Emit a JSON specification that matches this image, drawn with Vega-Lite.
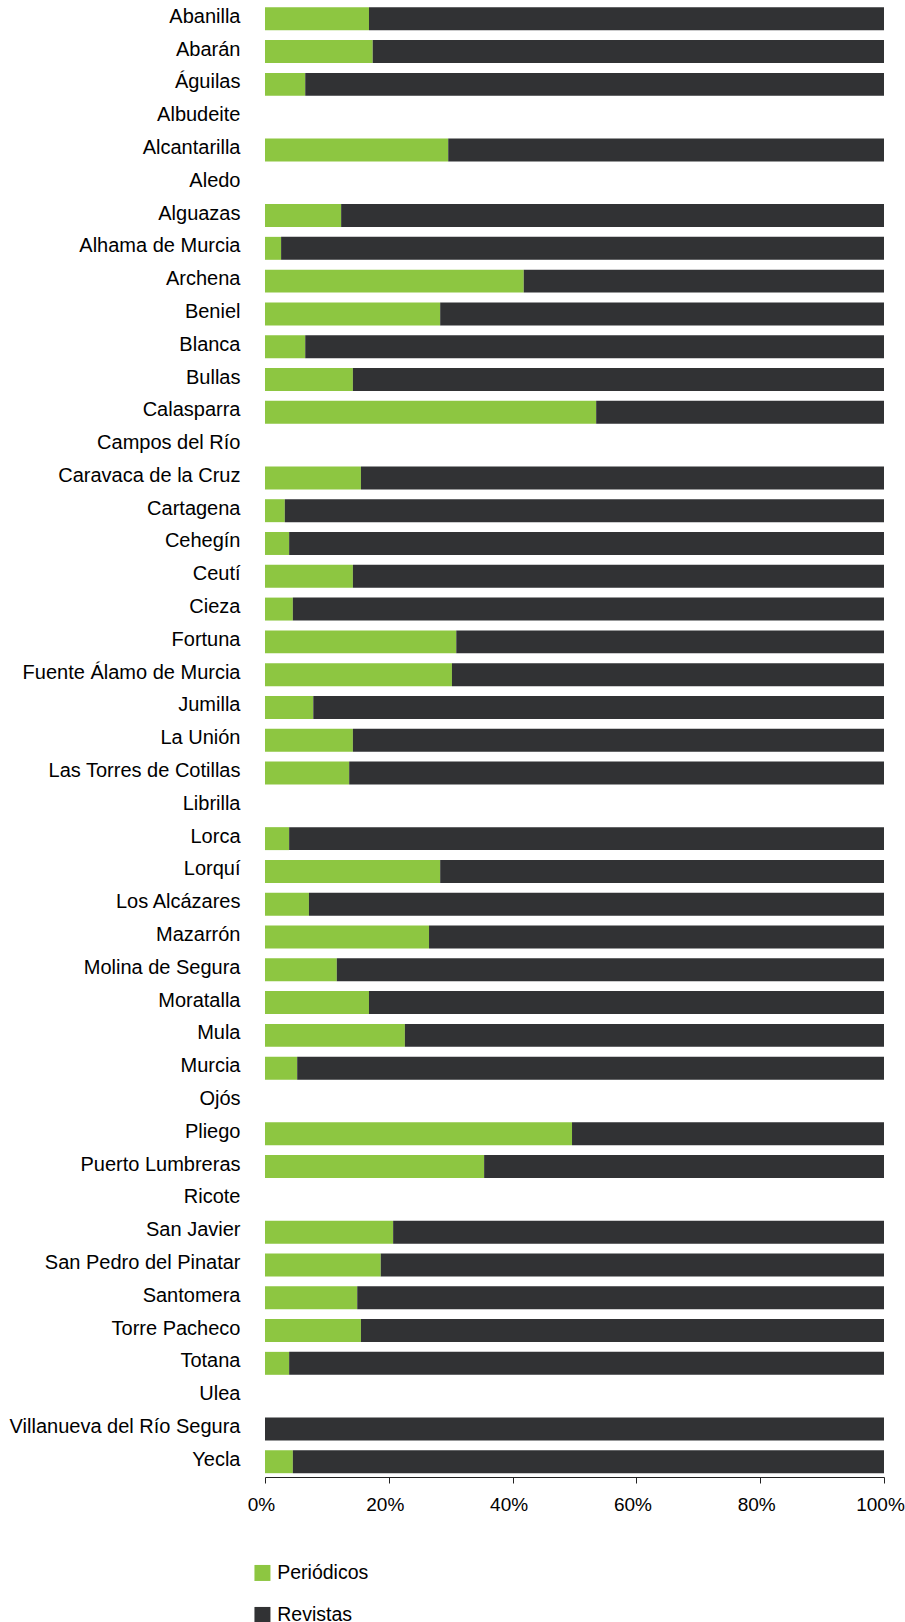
{
  "$schema": "https://vega.github.io/schema/vega-lite/v6.json",
  "autosize": {"type": "none"},
  "padding": {"left": 265, "top": 3.5, "right": 21, "bottom": 145},
  "width": 619,
  "height": 1473.5,
  "background": "white",
  "config": {
    "view": {"stroke": null},
    "font": "Liberation Sans"
  },
  "data": {
    "values": [
      {"municipio": "Abanilla", "Periódicos": 16.8, "Revistas": 83.2},
      {"municipio": "Abarán", "Periódicos": 17.4, "Revistas": 82.6},
      {"municipio": "Águilas", "Periódicos": 6.5, "Revistas": 93.5},
      {"municipio": "Alcantarilla", "Periódicos": 29.6, "Revistas": 70.4},
      {"municipio": "Alguazas", "Periódicos": 12.3, "Revistas": 87.7},
      {"municipio": "Alhama de Murcia", "Periódicos": 2.6, "Revistas": 97.4},
      {"municipio": "Archena", "Periódicos": 41.8, "Revistas": 58.2},
      {"municipio": "Beniel", "Periódicos": 28.3, "Revistas": 71.7},
      {"municipio": "Blanca", "Periódicos": 6.5, "Revistas": 93.5},
      {"municipio": "Bullas", "Periódicos": 14.2, "Revistas": 85.8},
      {"municipio": "Calasparra", "Periódicos": 53.5, "Revistas": 46.5},
      {"municipio": "Caravaca de la Cruz", "Periódicos": 15.5, "Revistas": 84.5},
      {"municipio": "Cartagena", "Periódicos": 3.2, "Revistas": 96.8},
      {"municipio": "Cehegín", "Periódicos": 3.9, "Revistas": 96.1},
      {"municipio": "Ceutí", "Periódicos": 14.2, "Revistas": 85.8},
      {"municipio": "Cieza", "Periódicos": 4.5, "Revistas": 95.5},
      {"municipio": "Fortuna", "Periódicos": 30.9, "Revistas": 69.1},
      {"municipio": "Fuente Álamo de Murcia", "Periódicos": 30.2, "Revistas": 69.8},
      {"municipio": "Jumilla", "Periódicos": 7.8, "Revistas": 92.2},
      {"municipio": "La Unión", "Periódicos": 14.2, "Revistas": 85.8},
      {"municipio": "Las Torres de Cotillas", "Periódicos": 13.6, "Revistas": 86.4},
      {"municipio": "Lorca", "Periódicos": 3.9, "Revistas": 96.1},
      {"municipio": "Lorquí", "Periódicos": 28.3, "Revistas": 71.7},
      {"municipio": "Los Alcázares", "Periódicos": 7.1, "Revistas": 92.9},
      {"municipio": "Mazarrón", "Periódicos": 26.5, "Revistas": 73.5},
      {"municipio": "Molina de Segura", "Periódicos": 11.6, "Revistas": 88.4},
      {"municipio": "Moratalla", "Periódicos": 16.8, "Revistas": 83.2},
      {"municipio": "Mula", "Periódicos": 22.6, "Revistas": 77.4},
      {"municipio": "Murcia", "Periódicos": 5.2, "Revistas": 94.8},
      {"municipio": "Pliego", "Periódicos": 49.6, "Revistas": 50.4},
      {"municipio": "Puerto Lumbreras", "Periódicos": 35.4, "Revistas": 64.6},
      {"municipio": "San Javier", "Periódicos": 20.7, "Revistas": 79.3},
      {"municipio": "San Pedro del Pinatar", "Periódicos": 18.7, "Revistas": 81.3},
      {"municipio": "Santomera", "Periódicos": 14.9, "Revistas": 85.1},
      {"municipio": "Torre Pacheco", "Periódicos": 15.5, "Revistas": 84.5},
      {"municipio": "Totana", "Periódicos": 3.9, "Revistas": 96.1},
      {"municipio": "Villanueva del Río Segura", "Periódicos": 0, "Revistas": 100},
      {"municipio": "Yecla", "Periódicos": 4.5, "Revistas": 95.5}
    ]
  },
  "transform": [
    {"fold": ["Periódicos", "Revistas"], "as": ["tipo", "valor"]}
  ],
  "mark": {"type": "bar"},
  "encoding": {
    "y": {
      "field": "municipio",
      "type": "nominal",
      "scale": {
        "domain": ["Abanilla", "Abarán", "Águilas", "Albudeite", "Alcantarilla", "Aledo", "Alguazas", "Alhama de Murcia", "Archena", "Beniel", "Blanca", "Bullas", "Calasparra", "Campos del Río", "Caravaca de la Cruz", "Cartagena", "Cehegín", "Ceutí", "Cieza", "Fortuna", "Fuente Álamo de Murcia", "Jumilla", "La Unión", "Las Torres de Cotillas", "Librilla", "Lorca", "Lorquí", "Los Alcázares", "Mazarrón", "Molina de Segura", "Moratalla", "Mula", "Murcia", "Ojós", "Pliego", "Puerto Lumbreras", "Ricote", "San Javier", "San Pedro del Pinatar", "Santomera", "Torre Pacheco", "Totana", "Ulea", "Villanueva del Río Segura", "Yecla"],
        "paddingInner": 0.3,
        "paddingOuter": 0.116
      },
      "axis": {
        "title": null,
        "domain": false,
        "ticks": false,
        "labelPadding": 25,
        "labelFontSize": 20,
        "labelColor": "#000000",
        "labelFont": "Liberation Sans",
        "labelLimit": 400,
        "labelOffset": -2
      }
    },
    "x": {
      "field": "valor",
      "type": "quantitative",
      "stack": "normalize",
      "scale": {"domain": [0, 1], "nice": false},
      "axis": {
        "title": null,
        "values": [0, 0.2, 0.4, 0.6, 0.8, 1],
        "format": ".0%",
        "grid": false,
        "domainColor": "#222222",
        "domainWidth": 1,
        "tickColor": "#222222",
        "tickSize": 6,
        "labelFontSize": 19,
        "labelColor": "#000000",
        "labelFont": "Liberation Sans",
        "labelPadding": 12,
        "labelOffset": -4,
        "labelFlush": false,
        "labelOverlap": false
      }
    },
    "color": {
      "field": "tipo",
      "type": "nominal",
      "scale": {"domain": ["Periódicos", "Revistas"], "range": ["#8dc641", "#313234"]},
      "legend": {
        "title": null,
        "orient": "none",
        "legendX": -12.3,
        "legendY": 1559.7,
        "direction": "vertical",
        "padding": 0,
        "symbolType": "square",
        "symbolSize": 256,
        "symbolStrokeWidth": 0,
        "labelFontSize": 19.5,
        "labelColor": "#000000",
        "labelFont": "Liberation Sans",
        "labelOffset": 5,
        "rowPadding": 21
      }
    }
  }
}
